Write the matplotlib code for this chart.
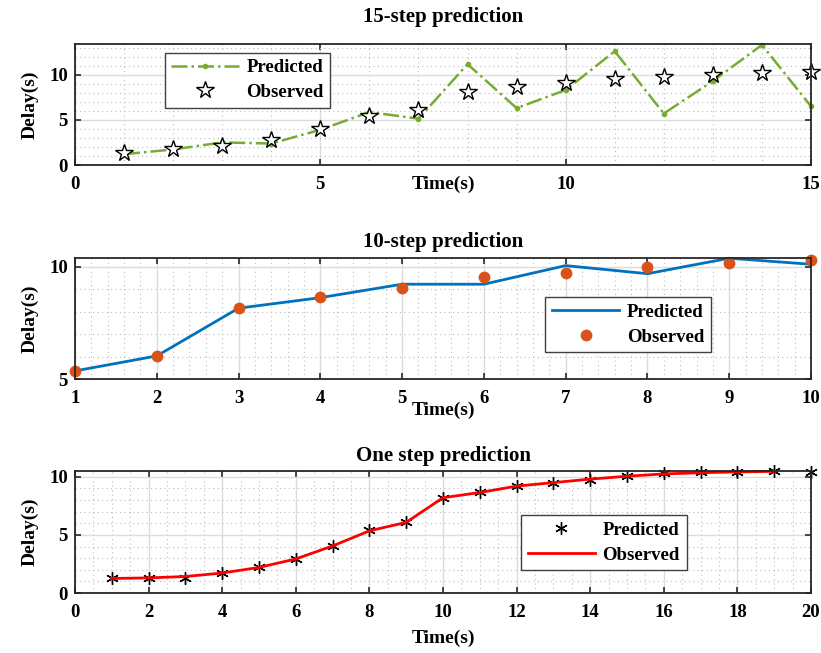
import matplotlib
matplotlib.use("Agg")
import matplotlib.pyplot as plt
from matplotlib.ticker import MultipleLocator

# 15-step prediction
t15 = list(range(1, 16))
pred15 = [1.2, 1.72, 2.5, 2.38, 3.9, 5.86, 5.13, 11.17, 6.3, 8.3, 12.6, 5.7, 9.3, 13.3, 6.5]
obs15 = [1.35, 1.8, 2.1, 2.8, 3.95, 5.4, 6.05, 8.1, 8.6, 9.05, 9.5, 9.8, 10.0, 10.15, 10.25]

# 10-step prediction
t10 = list(range(1, 11))
pred10 = [5.36, 6.03, 8.16, 8.63, 9.23, 9.23, 10.06, 9.7, 10.39, 10.12]
obs10 = [5.36, 6.03, 8.16, 8.66, 9.05, 9.57, 9.75, 10.01, 10.16, 10.3]

# one step prediction
t1_pred = list(range(1, 21))
pred1 = [1.25, 1.3, 1.28, 1.75, 2.2, 2.95, 4.05, 5.4, 6.1, 8.2,
         8.7, 9.2, 9.5, 9.75, 10.05, 10.3, 10.4, 10.45, 10.5, 10.45]
t1_obs = list(range(1, 20))
obs1 = [1.25, 1.3, 1.42, 1.72, 2.2, 2.93, 4.05, 5.35, 6.08, 8.2,
        8.65, 9.2, 9.5, 9.8, 10.05, 10.25, 10.35, 10.42, 10.47]

plt.rcParams["font.family"] = "Liberation Serif"
plt.rcParams["font.weight"] = "bold"
plt.rcParams["axes.labelweight"] = "bold"
plt.rcParams["axes.titleweight"] = "bold"

FRAME = "#262626"

fig = plt.figure(figsize=(8.21, 6.53), dpi=100)
W, H = 821, 653


def make_ax(top, bottom):
    return fig.add_axes([75 / W, 1 - bottom / H, 736 / W, (bottom - top) / H])


def style(ax, xmaj, xmin, ymaj, ymin):
    ax.xaxis.set_major_locator(MultipleLocator(xmaj))
    ax.xaxis.set_minor_locator(MultipleLocator(xmin))
    ax.yaxis.set_major_locator(MultipleLocator(ymaj))
    ax.yaxis.set_minor_locator(MultipleLocator(ymin))
    ax.grid(which="major", color="#dcdcdc", lw=1.0, ls="-")
    ax.grid(which="minor", color="#bdbdbd", lw=0.8, ls=(0, (1, 3)))
    ax.set_axisbelow(True)
    ax.tick_params(which="major", direction="in", length=4, width=1.2,
                   top=True, right=True, labelsize=13.5, pad=8, color=FRAME)
    ax.tick_params(axis="y", which="major", pad=5)
    ax.tick_params(which="minor", length=0)
    for s in ax.spines.values():
        s.set_linewidth(1.3)
        s.set_color(FRAME)
    ax.set_ylabel("Delay(s)", fontsize=14)
    ax.yaxis.set_label_coords(-0.05, 0.5)


def legend(ax, handles, labels, x, y):
    lg = ax.legend(handles, labels, loc="upper left", bbox_to_anchor=(x, y),
                   fontsize=13.5, frameon=True, fancybox=False, framealpha=1,
                   edgecolor="#404040", handlelength=3.6, labelspacing=0.4,
                   borderpad=0.35, handletextpad=0.4, borderaxespad=0)
    lg.get_frame().set_linewidth(1.0)


# panel 1
ax1 = make_ax(44, 165)
l1, = ax1.plot(t15, pred15, color="#77AC30", ls="-.", lw=1.8, marker=".", ms=6,
               clip_on=False)
s1, = ax1.plot(t15, obs15, ls="none", marker="*", ms=13, mfc="white",
               mec="black", mew=1.0, clip_on=False)
ax1.set_xlim(0, 15)
ax1.set_ylim(0, 13.4)
style(ax1, 5, 1, 5, 1)
ax1.set_title("15-step prediction", fontsize=15, pad=16)
ax1.set_xlabel("Time(s)", fontsize=14)
ax1.xaxis.set_label_coords(0.5, -0.09)
legend(ax1, [l1, s1], ["Predicted", "Observed"], 0.122, 0.928)

# panel 2
ax2 = make_ax(258, 379)
l2, = ax2.plot(t10, pred10, color="#0072BD", lw=2.0, clip_on=False)
s2, = ax2.plot(t10, obs10, ls="none", marker="o", ms=7.5, color="#D95319",
               clip_on=False)
ax2.set_xlim(1, 10)
ax2.set_ylim(5, 10.4)
style(ax2, 1, 0.2, 5, 1)
ax2.set_title("10-step prediction", fontsize=15, pad=8)
ax2.set_xlabel("Time(s)", fontsize=14)
ax2.xaxis.set_label_coords(0.5, -0.19)
legend(ax2, [l2, s2], ["Predicted", "Observed"], 0.639, 0.675)

# panel 3
ax3 = make_ax(471, 593)
s3, = ax3.plot(t1_pred, pred1, ls="none", marker=(6, 2, 0), ms=9,
               color="black", mew=1.0, clip_on=False)
l3, = ax3.plot(t1_obs, obs1, color="red", lw=2.0, clip_on=False)
ax3.set_xlim(0, 20)
ax3.set_ylim(0, 10.5)
style(ax3, 2, 0.5, 5, 1)
ax3.set_title("One step prediction", fontsize=15, pad=7)
ax3.set_xlabel("Time(s)", fontsize=14)
ax3.xaxis.set_label_coords(0.5, -0.3)
legend(ax3, [s3, l3], ["Predicted", "Observed"], 0.606, 0.637)

fig.savefig("out.png", dpi=100)
